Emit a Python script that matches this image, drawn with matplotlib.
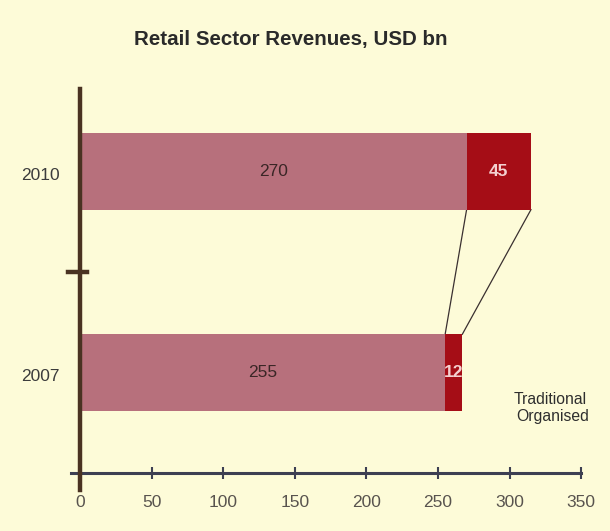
import matplotlib
matplotlib.use("Agg")
import matplotlib.pyplot as plt
from matplotlib import font_manager

# ---- data ----
years = ["2007", "2010"]
traditional = [255, 270]
organised = [12, 45]
x_ticks = [0, 50, 100, 150, 200, 250, 300, 350]
title = "Retail Sector Revenues, USD bn"
legend_labels = ["Traditional", "Organised"]

# ---- style ----
names = {f.name for f in font_manager.fontManager.ttflist}
FONT = "Liberation Sans Narrow" if "Liberation Sans Narrow" in names else "Liberation Sans"
plt.rcParams["font.family"] = [FONT, "DejaVu Sans"]

BG = "#fdfbd8"
C_TRAD = "#b7707c"
C_ORG = "#a50d16"
C_TEXT = "#3c3c3c"
C_XAXIS = "#3d3f52"
C_YAXIS = "#4a3222"

fig = plt.figure(figsize=(6.10, 5.31), dpi=100, facecolor=BG)
ax = fig.add_axes([0.1318, 0.1092, 0.8207, 0.7232])
ax.set_facecolor(BG)
ax.set_xlim(0, 350)
ax.set_ylim(-0.5, 1.41)

ypos = list(range(len(years)))
h = 0.38
ax.barh(ypos, traditional, height=h, color=C_TRAD, zorder=2)
ax.barh(ypos, organised, left=traditional, height=h, color=C_ORG, zorder=2)

for y, t, o in zip(ypos, traditional, organised):
    ax.text(t / 2, y, str(t), ha="center", va="center", fontsize=12.5, color="#3a2626", zorder=3)
    ax.text(t + o / 2, y, str(o), ha="center", va="center", fontsize=12.5, color="#f4d0d0",
            fontweight="bold", zorder=3)

# connector lines between organised segments
ax.plot([traditional[1], traditional[0]], [1 - h / 2, h / 2], color="#3a3030", lw=0.9, zorder=1)
ax.plot([traditional[1] + organised[1], traditional[0] + organised[0]], [1 - h / 2, h / 2],
        color="#3a3030", lw=0.9, zorder=1)

for s in ax.spines.values():
    s.set_visible(False)

# axis lines
ax.plot([-6.6, 350], [-0.5, -0.5], color=C_XAXIS, lw=2.2, clip_on=False, zorder=4)
ax.plot([0, 0], [-0.585, 1.41], color=C_YAXIS, lw=3.2, clip_on=False, zorder=5)
ax.plot([-8.5, 4.5], [0.5, 0.5], color=C_YAXIS, lw=3.2, clip_on=False, zorder=5)

ax.set_xticks(x_ticks)
ax.set_xticklabels([str(v) for v in x_ticks])
ax.tick_params(axis="x", direction="inout", length=8, width=1.5, color=C_XAXIS,
               labelsize=12.5, labelcolor="#58534e", pad=12)
ax.set_yticks([])

ytr = ax.get_yaxis_transform()
for y, lab in zip(ypos, years):
    ax.text(-0.079, y - 0.02, lab, transform=ytr, ha="center", va="center",
            fontsize=12.5, color=C_TEXT)

fig.text(0.476, 0.925, title, ha="center", va="center", fontsize=14.8, fontweight="bold",
         color="#2a2a2a")

fig.text(0.962, 1 - 400 / 531, legend_labels[0], ha="right", va="center", fontsize=11.3,
         color="#2e2e2e")
fig.text(0.966, 1 - 416 / 531, legend_labels[1], ha="right", va="center", fontsize=11.3,
         color="#2e2e2e")

fig.savefig("out.png", dpi=100, facecolor=BG)
